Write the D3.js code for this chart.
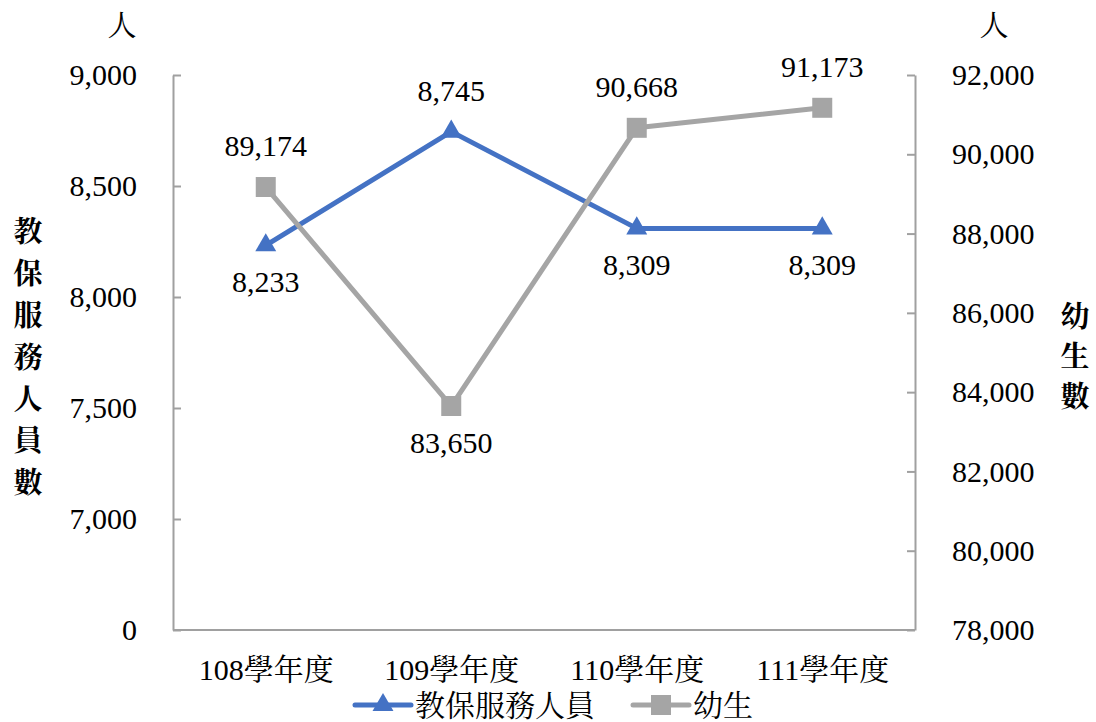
<!DOCTYPE html>
<html>
<head>
<meta charset="utf-8">
<script src="https://cdn.jsdelivr.net/npm/d3@7"></script>
<style>
  body { margin: 0; background: #fff; }
</style>
</head>
<body>
<svg id="chart" width="1096" height="722"></svg>
<script>
// categories and series
var years = ["108學年度", "109學年度", "110學年度", "111學年度"];
var staff = [8233, 8745, 8309, 8309];      // 教保服務人員 (left axis)
var pupils = [89174, 83650, 90668, 91173]; // 幼生 (right axis)

// left axis is broken: bottom tick stands for 0
var leftTicks = [6500, 7000, 7500, 8000, 8500, 9000];
var leftTickLabels = ["0", "7,000", "7,500", "8,000", "8,500", "9,000"];
var rightTicks = [78000, 80000, 82000, 84000, 86000, 88000, 90000, 92000];

// which side of the marker each value label sits
var staffLabelSide = ["below", "above", "below", "below"];
var pupilLabelSide = ["above", "below", "above", "above"];

var seriesNames = ["教保服務人員", "幼生"];
var leftTitle = "教保服務人員數";
var rightTitle = "幼生數";
var unit = "人";

var blue = "#4472c4", gray = "#a5a5a5", axisGray = "#a0a0a0";
var FONT = "'Liberation Serif', 'Times New Roman', 'Noto Serif CJK TC', serif";
var fmt = d3.format(",");

var plot = { left: 173, right: 915, top: 75, bottom: 630 };
var svg = d3.select("#chart").style("font-family", FONT);

var x = d3.scalePoint().domain(years).range([plot.left, plot.right]).padding(0.5);
var yL = d3.scaleLinear().domain([6500, 9000]).range([plot.bottom, plot.top]);
var yR = d3.scaleLinear().domain([78000, 92000]).range([plot.bottom, plot.top]);

function styleAxis(g) {
    g.attr("font-family", null).attr("font-size", null);
    g.selectAll("path, line").attr("stroke", axisGray).attr("stroke-width", 2);
    g.selectAll("text")
        .attr("fill", "#000")
        .style("font-family", FONT)
        .style("font-size", "30px");
}

// axes
svg.append("g")
    .attr("transform", "translate(" + plot.left + ",0)")
    .call(d3.axisLeft(yL).tickValues(leftTicks)
        .tickFormat(function(d, i) { return leftTickLabels[i]; })
        .tickSizeInner(-8).tickSizeOuter(0).tickPadding(36))
    .call(styleAxis);

svg.append("g")
    .attr("transform", "translate(" + plot.right + ",0)")
    .call(d3.axisRight(yR).tickValues(rightTicks).tickFormat(fmt)
        .tickSizeInner(-8).tickSizeOuter(0).tickPadding(37))
    .call(styleAxis);

svg.append("g")
    .attr("transform", "translate(0," + plot.bottom + ")")
    .call(d3.axisBottom(x).tickSize(0).tickPadding(29))
    .call(function(g) { g.select(".domain").attr("d", "M" + plot.left + ",0H" + plot.right); })
    .call(styleAxis);

// unit labels
[122, 994].forEach(function(ux) {
    svg.append("text").attr("x", ux).attr("y", 36).attr("text-anchor", "middle")
        .style("font-family", FONT).style("font-size", "29px").text(unit);
});

// vertical axis titles, one char per line
function verticalTitle(str, cx, cy0, pitch) {
    svg.append("g").selectAll("text")
        .data(str.split(""))
      .enter().append("text")
        .attr("x", cx)
        .attr("y", function(d, i) { return cy0 + i * pitch; })
        .attr("dy", "0.36em")
        .attr("text-anchor", "middle")
        .style("font-family", FONT)
        .style("font-size", "29px")
        .style("font-weight", "bold")
        .text(function(d) { return d; });
}
verticalTitle(leftTitle, 28, 232, 41.8);
verticalTitle(rightTitle, 1075, 317, 40);

// lines, markers, value labels
function drawSeries(values, yScale, color, symbol, symSize, sides) {
    var line = d3.line()
        .x(function(d, i) { return x(years[i]); })
        .y(function(d) { return yScale(d); });

    var g = svg.append("g");
    g.append("path")
        .datum(values)
        .attr("fill", "none")
        .attr("stroke", color)
        .attr("stroke-width", 5)
        .attr("stroke-linejoin", "round")
        .attr("d", line);

    g.selectAll(".mark")
        .data(values)
      .enter().append("path")
        .attr("class", "mark")
        .attr("fill", color)
        .attr("transform", function(d, i) { return "translate(" + x(years[i]) + "," + yScale(d) + ")"; })
        .attr("d", d3.symbol(symbol, symSize));

    g.selectAll(".lbl")
        .data(values)
      .enter().append("text")
        .attr("class", "lbl")
        .attr("x", function(d, i) { return x(years[i]); })
        .attr("y", function(d, i) { return yScale(d) + (sides[i] == "above" ? -31 : 47); })
        .attr("text-anchor", "middle")
        .style("font-family", FONT)
        .style("font-size", "30px")
        .text(function(d) { return fmt(d); });
}
drawSeries(staff, yL, blue, d3.symbolTriangle, 190, staffLabelSide);
drawSeries(pupils, yR, gray, d3.symbolSquare, 400, pupilLabelSide);

// legend
var legend = svg.append("g").attr("transform", "translate(0,705)");
var legendItems = [
    { name: seriesNames[0], color: blue, symbol: d3.symbolTriangle, size: 190, x0: 355 },
    { name: seriesNames[1], color: gray, symbol: d3.symbolSquare, size: 400, x0: 633 }
];
legendItems.forEach(function(it) {
    legend.append("line")
        .attr("x1", it.x0).attr("x2", it.x0 + 56)
        .attr("stroke", it.color).attr("stroke-width", 5).attr("stroke-linecap", "round");
    legend.append("path")
        .attr("transform", "translate(" + (it.x0 + 28) + ",0)")
        .attr("fill", it.color)
        .attr("d", d3.symbol(it.symbol, it.size));
    legend.append("text")
        .attr("x", it.x0 + 60).attr("y", 11)
        .style("font-family", FONT)
        .style("font-size", "30px")
        .text(it.name);
});
</script>
</body>
</html>
